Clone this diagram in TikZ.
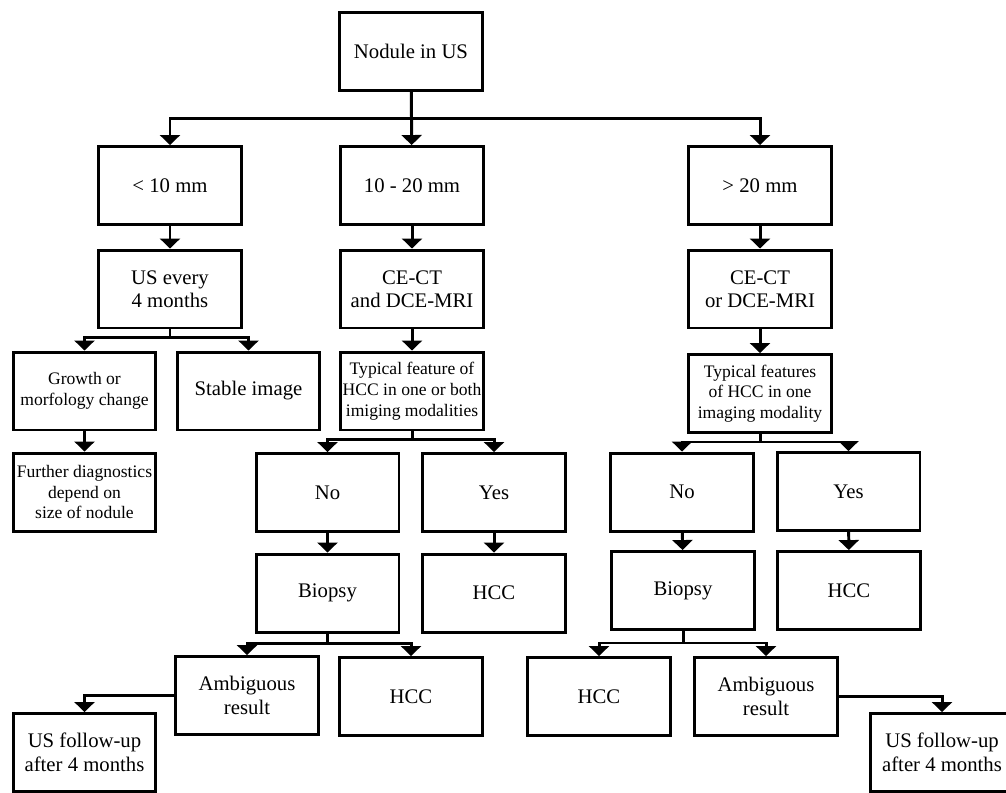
\documentclass[tikz,border=0pt]{standalone}
\usepackage{fontspec}
\setmainfont{Liberation Serif}
\usepackage{tikz}
\usetikzlibrary{arrows.meta}
\newcommand{\bigtxt}{\fontsize{11.8}{13.4}\selectfont}
\newcommand{\smalltxt}{\fontsize{10}{11.8}\selectfont}
\tikzset{box/.style={
    draw=black,
    line width=1.7pt,
    minimum width=2.86cm,
    minimum height=1.56cm,
    align=center,
    inner sep=1pt,
    font=\bigtxt
  },
  smallbox/.style={
    box,
    font=\smalltxt
  },
  arr/.style={
    black,
    line width=1.7pt,
    -{Triangle[width=0.4cm,length=0.2cm]}
  }
}

\begin{document}
\begin{tikzpicture}[x=0.02cm,y=-0.02cm]
      \useasboundingbox (0,0) rectangle (1006,792);
      \clip (0,0) rectangle (1006,792);
      % size classes
      \node[box] (nodule) at (411,51.5) {Nodule in US};
      \node[box] (small) at (170,185.5) {< 10 mm};
      \node[box] (medium) at (412,185.5) {10 - 20 mm};
      \node[box] (large) at (760,185.5) {> 20 mm};
      \node[box] (usevery) at (170,289) {US every\\4 months};
      \node[box] (ctand) at (412,289) {CE-CT\\and DCE-MRI};
      \node[box] (ctor) at (760,289) {CE-CT\\or DCE-MRI};
      % left branch
      \node[smallbox] (growth) at (84.5,391) {Growth or\\morfology change};
      \node[box] (stable) at (248.5,391) {Stable image};
      \node[smallbox] (further) at (84.5,492) {Further diagnostics\\depend on\\size of nodule};
      % middle branch
      \node[smallbox] (typmid) at (412,391) {Typical feature of\\HCC in one or both\\imiging modalities};
      \node[box] (nomid) at (327.5,492.5) {No};
      \node[box] (yesmid) at (494,492.5) {Yes};
      \node[box] (biomid) at (327.5,593) {Biopsy};
      \node[box] (hccmid) at (494,593) {HCC};
      \node[box] (ambmid) at (247,695.5) {Ambiguous\\result};
      \node[box] (hccmidb) at (411,696.5) {HCC};
      \node[box] (fuleft) at (84.5,752.5) {US follow-up\\after 4 months};
      % right branch
      \node[smallbox] (typright) at (760,393.5) {Typical features\\of HCC in one\\imaging modality};
      \node[box] (noright) at (682,492) {No};
      \node[box] (yesright) at (848.5,491.5) {Yes};
      \node[box] (bioright) at (683,590.5) {Biopsy};
      \node[box] (hccright) at (849,590.5) {HCC};
      \node[box] (hccrightb) at (599,696.5) {HCC};
      \node[box] (ambright) at (766,696.5) {Ambiguous\\result};
      \node[box] (furight) at (942,752.5) {US follow-up\\after 4 months};
      % connectors
      \draw[arr] (nodule.south) -- ++(0,27) -| (small.north);
      \draw[arr] (nodule) -- (medium);
      \draw[arr] (nodule.south) -- ++(0,27) -| (large.north);
      \draw[arr] (small) -- (usevery);
      \draw[arr] (medium) -- (ctand);
      \draw[arr] (large) -- (ctor);
      \draw[arr] (usevery.south) -- ++(0,8) -| (growth.north);
      \draw[arr] (usevery.south) -- ++(0,8) -| (stable.north);
      \draw[arr] (growth) -- (further);
      \draw[arr] (ctand) -- (typmid);
      \draw[arr] (typmid.south) -- ++(0,8) -| (nomid.north);
      \draw[arr] (typmid.south) -- ++(0,8) -| (yesmid.north);
      \draw[arr] (nomid) -- (biomid);
      \draw[arr] (yesmid) -- (hccmid);
      \draw[arr] (biomid.south) -- ++(0,10) -| (ambmid.north);
      \draw[arr] (biomid.south) -- ++(0,10) -| (hccmidb.north);
      \draw[arr] (ambmid.west) -| (fuleft.north);
      \draw[arr] (ctor) -- (typright);
      \draw[arr] (typright.south) -- ++(0,8) -| (noright.north);
      \draw[arr] (typright.south) -- ++(0,8) -| (yesright.north);
      \draw[arr] (noright) -- (bioright);
      \draw[arr] (yesright) -- (hccright);
      \draw[arr] (bioright.south) -- ++(0,12) -| (hccrightb.north);
      \draw[arr] (bioright.south) -- ++(0,12) -| (ambright.north);
      \draw[arr] (ambright.east) -| (furight.north);
\end{tikzpicture}
\end{document}
